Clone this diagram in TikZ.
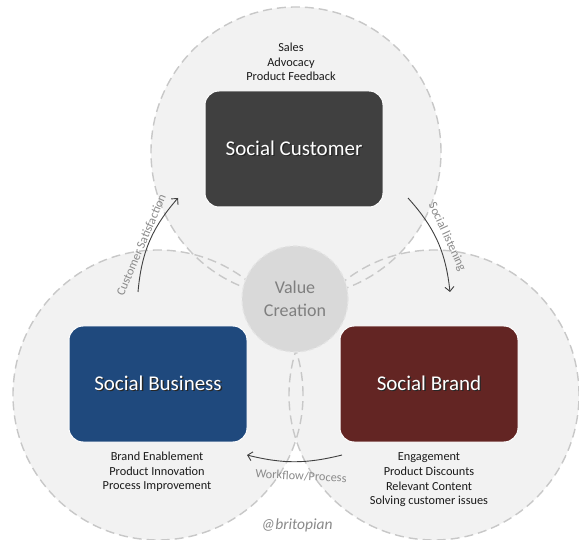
\documentclass[tikz,border=0pt]{standalone}
\usepackage{fontspec}
\setmainfont{Carlito}
\usetikzlibrary{arrows.meta}
\definecolor{circfill}{HTML}{F2F2F2}
\definecolor{circline}{HTML}{C8C8C8}
\definecolor{valfill}{HTML}{D9D9D9}
\definecolor{valline}{HTML}{E4E4E4}
\definecolor{custbox}{HTML}{404040}
\definecolor{busbox}{HTML}{1F497D}
\definecolor{brandbox}{HTML}{632523}
\definecolor{lblgray}{HTML}{8A8A8A}
\definecolor{valtext}{HTML}{7F7F7F}
\definecolor{arrowcol}{HTML}{404040}
\definecolor{listtext}{HTML}{1A1A1A}
\newcommand\shadowtxt[1]{\rlap{\kern1.3pt\raisebox{-1.3pt}{\textcolor{black!85}{#1}}}#1}
\begin{document}
\begin{tikzpicture}[x=1pt,y=-1pt,
  bigfill/.style={circle, minimum size=290pt, inner sep=0pt, fill=circfill},
  bigline/.style={draw=circline, line width=1.4pt, dash pattern=on 9pt off 5pt},
  mainbox/.style={rounded corners=14pt, minimum width=178pt, minimum height=116pt,
    draw=white, line width=1pt, text=white, inner sep=0pt,
    font=\fontsize{21}{24}\selectfont},
  listtxt/.style={align=center, text=listtext, inner sep=0pt,
    font=\fontsize{12.3}{14.6}\selectfont},
  lbl/.style={text=lblgray, inner sep=0pt, font=\fontsize{12.3}{14}\selectfont},
  arr/.style={draw=arrowcol, line width=0.9pt, -{Straight Barb[length=4.5pt,width=9pt]}},
  valcirc/.style={circle, minimum size=106pt, inner sep=0pt, fill=valfill,
    draw=valline, line width=1.2pt, dash pattern=on 5pt off 3pt,
    text=valtext, align=center, font=\fontsize{18}{23}\selectfont}
]
\useasboundingbox (0,0) rectangle (579,540);
\fill[white] (0,0) rectangle (579,540);

% big circles: fills first, then dashed outlines
\node[bigfill] (ctop) at (296,152) {};
\node[bigfill] (cbl) at (158,395) {};
\node[bigfill] (cbr) at (434,395) {};
\draw[bigline] (ctop.center) circle[radius=145pt];
\draw[bigline] (cbl.center) circle[radius=145pt];
\draw[bigline] (cbr.center) circle[radius=145pt];

% value creation
\node[valcirc] (val) at (295,299) {Value\\Creation};

% main boxes
\node[mainbox, fill=custbox] (cust) at (294,149) {\shadowtxt{Social Customer}};
\node[mainbox, fill=busbox] (bus) at (158,384) {\shadowtxt{Social Business}};
\node[mainbox, fill=brandbox] (brand) at (429,384) {\shadowtxt{Social Brand}};

% lists
\node[listtxt] (custlist) at (291,62) {Sales\\Advocacy\\Product Feedback};
\node[listtxt] (buslist) at (157,472) {Brand Enablement\\Product Innovation\\Process Improvement};
\node[listtxt] (brandlist) at (429,480) {Engagement\\Product Discounts\\Relevant Content\\Solving customer issues};

% arrows
\coordinate (cs1) at (138,292);
\coordinate (cs2) at (178,198);
\coordinate (sl1) at (408,198);
\coordinate (sl2) at (450,292);
\coordinate (wf1) at (342,455);
\coordinate (wf2) at (247,455);
\draw[arr] (cs1) to[bend left=18] (cs2);
\draw[arr] (sl1) to[bend left=18] (sl2);
\draw[arr] (wf1) to[bend left=14] (wf2);

\node[lbl, rotate=67] (lcs) at (141,245) {Customer Satisfaction};
\node[lbl, rotate=-65] (lsl) at (447,237) {Social listening};
\node[lbl, rotate=-3] (lwf) at (301,476) {Workflow/Process};

% signature
\node[text=lblgray, inner sep=0pt, font=\fontsize{15.5}{18}\selectfont\itshape] (sig) at (297,525) {@britopian};
\end{tikzpicture}
\end{document}
